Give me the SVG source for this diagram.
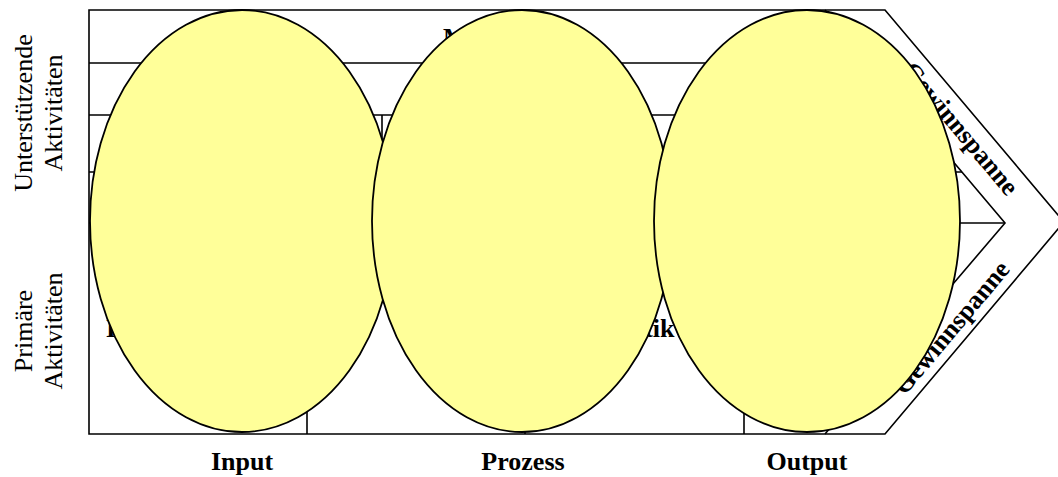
<svg xmlns="http://www.w3.org/2000/svg" width="1058" height="477" viewBox="0 0 1058 477">
<style>
.ln{fill:none;stroke:#000;stroke-width:1.6;stroke-linejoin:miter}
.ax{font-family:"Liberation Serif","Times New Roman",serif;font-size:26px;fill:#000}
.bd{font-family:"Liberation Serif","Times New Roman",serif;font-size:26px;font-weight:bold;fill:#000}
.el{fill:#FFFF99;stroke:#000;stroke-width:1.8}
</style>
<rect width="1058" height="477" fill="#fff"/>
<g id="frame" class="ln">
<path d="M89,10 H885 L1064,222 L885,434 H89 Z"/>
<path d="M825,10 L1005,223 L825,434"/>
<path d="M89,63 H870 M89,115 H914 M89,172 H962 M89,223 H1005"/>
<path d="M382,115 V172 M307,223 V434 M525,223 V434 M744,223 V434"/>
</g>
<g id="labels">
<text class="ax" text-anchor="middle" transform="translate(32,113) rotate(-90)">Unterstützende</text>
<text class="ax" text-anchor="middle" transform="translate(62,113) rotate(-90)">Aktivitäten</text>
<text class="ax" text-anchor="middle" transform="translate(32,331) rotate(-90)">Primäre</text>
<text class="ax" text-anchor="middle" transform="translate(62,331) rotate(-90)">Aktivitäten</text>
<text class="bd" x="443" y="46">Management</text>
<text class="bd" text-anchor="middle" x="198" y="337">Eingangslogistik</text>
<text class="bd" text-anchor="middle" x="629" y="337">Logistik</text>
<text class="bd" text-anchor="middle" transform="translate(954,134) rotate(50)">Gewinnspanne</text>
<text class="bd" text-anchor="middle" transform="translate(958,333) rotate(-50)">Gewinnspanne</text>
<text class="bd" text-anchor="middle" x="242" y="470">Input</text>
<text class="bd" text-anchor="middle" x="523" y="470">Prozess</text>
<text class="bd" text-anchor="middle" x="807" y="470">Output</text>
</g>
<g id="ellipse-input"><ellipse class="el" cx="242" cy="221" rx="152" ry="211"/></g>
<g id="ellipse-prozess"><ellipse class="el" cx="522" cy="221" rx="150" ry="211"/></g>
<g id="ellipse-output"><ellipse class="el" cx="807" cy="221" rx="153" ry="211"/></g>
</svg>
